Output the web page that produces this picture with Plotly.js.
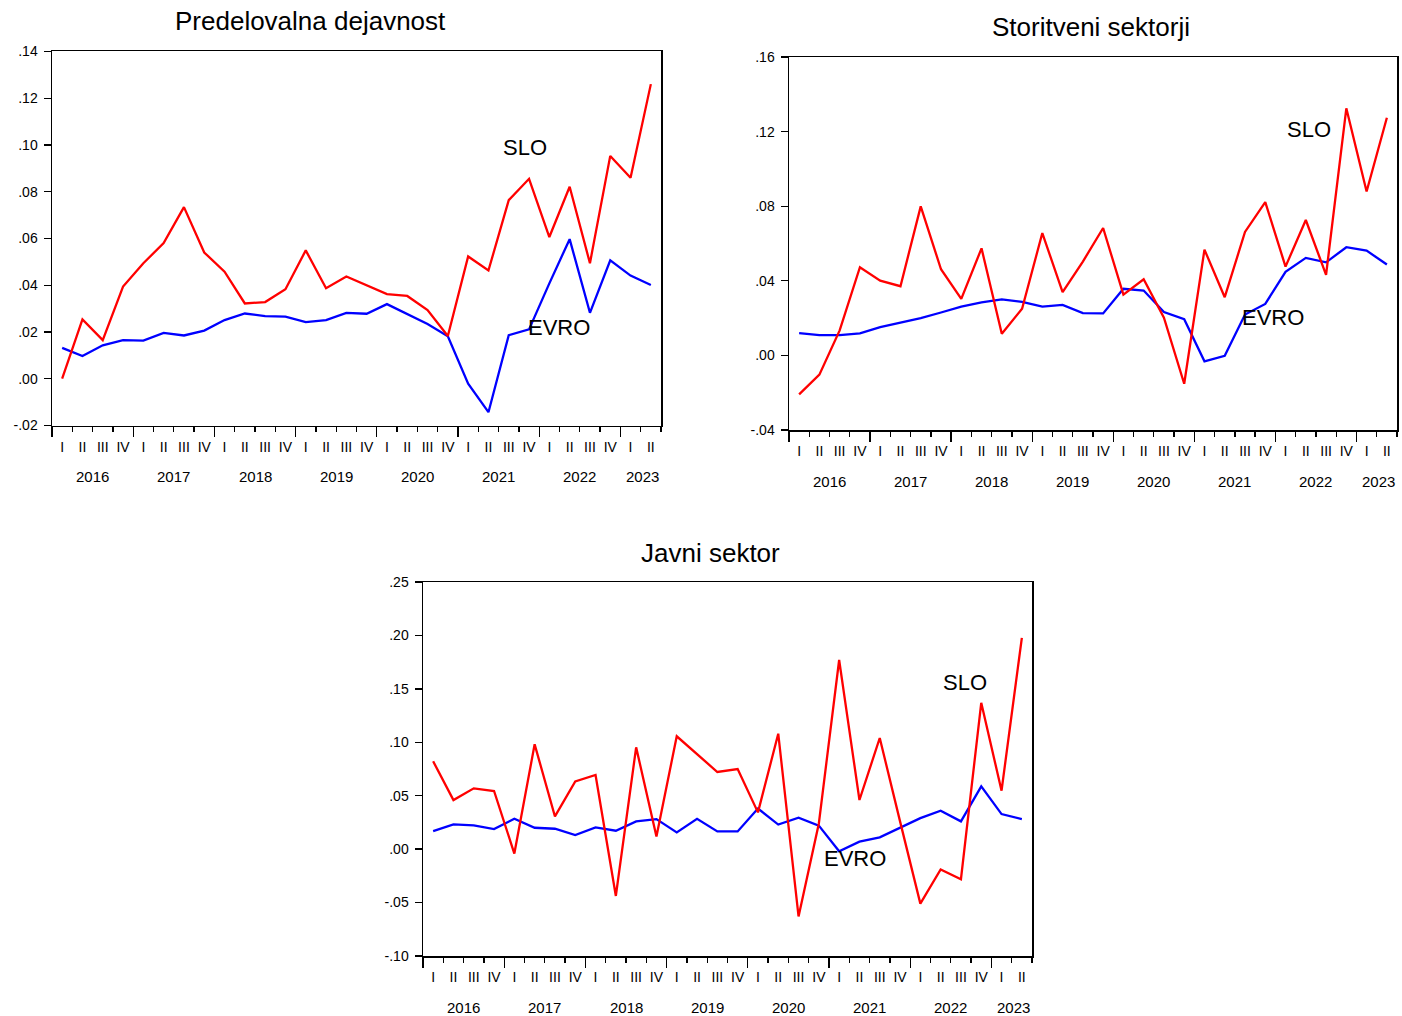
<!DOCTYPE html>
<html>
<head>
<meta charset="utf-8">
<script src="https://cdn.plot.ly/plotly-3.0.1.min.js"></script>
<style>
  html, body { margin: 0; padding: 0; background: #fff; }
  #chart { width: 1402px; height: 1016px; }
</style>
</head>
<body>
<div id="chart"></div>
<script>
// Quarterly growth rates, 2016 Q1 – 2023 Q2
const quarterLabels = ['I','II','III','IV','I','II','III','IV','I','II','III','IV','I','II','III','IV',
                       'I','II','III','IV','I','II','III','IV','I','II','III','IV','I','II'];
const yearLabels = ['2016','2017','2018','2019','2020','2021','2022','2023'];

const predSLO  = [0.000, 0.0254, 0.0165, 0.0394, 0.0494, 0.058, 0.0734, 0.054, 0.0458, 0.0322,
                  0.0328, 0.0383, 0.0549, 0.0387, 0.0437, 0.0398, 0.0362, 0.0354, 0.0294, 0.0183,
                  0.0523, 0.0463, 0.0764, 0.0855, 0.0606, 0.0821, 0.0494, 0.0953, 0.086, 0.126];
const predEVRO = [0.0132, 0.0097, 0.0143, 0.0165, 0.0163, 0.0196, 0.0185, 0.0206, 0.0251, 0.0279,
                  0.0268, 0.0266, 0.0242, 0.0251, 0.0282, 0.0278, 0.0319, 0.0277, 0.0234, 0.0182,
                  -0.0021, -0.0143, 0.0186, 0.0211, 0.0408, 0.0597, 0.0282, 0.0506, 0.0441, 0.0401];

const storSLO  = [-0.0209, -0.0103, 0.0134, 0.0473, 0.0401, 0.0371, 0.0799, 0.0462, 0.0303, 0.0574,
                  0.0116, 0.025, 0.0656, 0.0339, 0.0503, 0.0683, 0.0326, 0.0408, 0.0202, -0.0152,
                  0.0567, 0.0312, 0.0662, 0.0822, 0.0476, 0.0726, 0.0432, 0.1325, 0.0879, 0.1274];
const storEVRO = [0.012, 0.0109, 0.0109, 0.0118, 0.0152, 0.0177, 0.02, 0.023, 0.0262, 0.0284,
                  0.03, 0.0287, 0.0262, 0.0271, 0.0227, 0.0225, 0.0357, 0.0348, 0.0232, 0.0194,
                  -0.0032, -0.0002, 0.0219, 0.0276, 0.0448, 0.0523, 0.0499, 0.058, 0.0562, 0.0487];

const javSLO   = [0.0822, 0.0459, 0.0569, 0.0544, -0.0041, 0.0981, 0.0306, 0.0634, 0.0694, -0.0438,
                  0.0953, 0.0119, 0.1056, 0.0891, 0.0722, 0.075, 0.0344, 0.108, -0.063, 0.024,
                  0.177, 0.046, 0.104, 0.026, -0.051, -0.019, -0.0281, 0.1369, 0.0547, 0.1978];
const javEVRO  = [0.0169, 0.0231, 0.0222, 0.0188, 0.0284, 0.02, 0.0191, 0.0131, 0.0203, 0.0172,
                  0.0259, 0.0281, 0.0156, 0.0284, 0.0166, 0.0166, 0.038, 0.023, 0.0295, 0.022,
                  -0.002, 0.007, 0.011, 0.02, 0.029, 0.036, 0.026, 0.0588, 0.0328, 0.0281];

const panelTitles = ['Predelovalna dejavnost', 'Storitveni sektorji', 'Javni sektor'];
const seriesNames = ['SLO', 'EVRO'];

// ---- layout helpers ----
const W = 1402, H = 1016;
const FONT = 'Liberation Sans, Arial, Helvetica, sans-serif';
const px2x = p => p / W;
const px2y = p => 1 - p / H;

const idx = quarterLabels.map((_, i) => i);
const nQ = quarterLabels.length;

// panel boxes in pixels: [left, right, top, bottom], value range and tick step
const panels = [
  { box: [52, 661, 51.4, 425.5], range: [-0.02, 0.14], step: 0.02,
    slo: predSLO, evro: predEVRO, title: panelTitles[0], titlePos: [310, 21],
    sloLab: [22.8, 0.0991], evroLab: [24.48, 0.0221] },
  { box: [789, 1397, 57, 430], range: [-0.04, 0.16], step: 0.04,
    slo: storSLO, evro: storEVRO, title: panelTitles[1], titlePos: [1091, 27],
    sloLab: [25.16, 0.1209], evroLab: [23.38, 0.0201] },
  { box: [423, 1032, 582, 956], range: [-0.10, 0.25], step: 0.05,
    slo: javSLO, evro: javEVRO, title: panelTitles[2], titlePos: [710, 553],
    sloLab: [26.2, 0.1564], evroLab: [20.78, -0.0083] }
];

const fmtTick = v => {
  const s = Math.abs(v).toFixed(2).replace(/^0/, '');
  return (v < -1e-9 ? '-' : '') + s;
};

// quarter boundaries and year boundaries
const boundaries = [];
for (let i = 0; i <= nQ; i++) boundaries.push(i - 0.5);
const yearStarts = [];
quarterLabels.forEach((q, i) => { if (q === 'I') yearStarts.push(i); });
const yearBounds = yearStarts.map(i => i - 0.5);

const traces = [];
const layout = {
  width: W, height: H,
  margin: { l: 0, r: 0, t: 0, b: 0 },
  paper_bgcolor: '#fff', plot_bgcolor: '#fff',
  showlegend: false,
  font: { family: FONT, color: '#000', size: 14 },
  annotations: []
};

panels.forEach((p, k) => {
  const n = k + 1;
  const xa = 'xaxis' + (n === 1 ? '' : n);
  const ya = 'yaxis' + (n === 1 ? '' : n);
  const xr = 'x' + (n === 1 ? '' : n);
  const yr = 'y' + (n === 1 ? '' : n);
  const labN = n + 3;
  const xaLab = 'xaxis' + labN;
  const xrLab = 'x' + labN;

  const [l, r, t, b] = p.box;
  const xdom = [px2x(l), px2x(r)];
  const ydom = [px2y(b), px2y(t)];

  const yTickVals = [];
  const nSteps = Math.round((p.range[1] - p.range[0]) / p.step);
  for (let i = 0; i <= nSteps; i++) yTickVals.push(+(p.range[0] + i * p.step).toFixed(4));

  layout[xa] = {
    domain: xdom, range: [-0.5, nQ - 0.5], anchor: yr,
    showline: true, mirror: true, linecolor: '#000', linewidth: 1.5,
    showgrid: false, zeroline: false, fixedrange: true,
    ticks: 'outside', tickvals: yearBounds, ticklen: 10, tickwidth: 1.3, tickcolor: '#000',
    showticklabels: false,
    minor: { tickvals: boundaries, ticks: 'outside', ticklen: 5, tickwidth: 1.3, tickcolor: '#000', showgrid: false }
  };
  layout[xaLab] = {
    domain: xdom, range: [-0.5, nQ - 0.5], anchor: yr, overlaying: xr, side: 'bottom',
    showline: false, showgrid: false, zeroline: false, fixedrange: true,
    ticks: '', tickvals: idx, ticktext: quarterLabels, tickangle: 0,
    ticklabelstandoff: 11, tickfont: { family: FONT, size: 14, color: '#000' }
  };
  layout[ya] = {
    domain: ydom, range: p.range, anchor: xr,
    showline: true, mirror: true, linecolor: '#000', linewidth: 1.5,
    showgrid: false, zeroline: false, fixedrange: true,
    ticks: 'outside', ticklen: 7, tickwidth: 1.3, tickcolor: '#000',
    tickvals: yTickVals, ticktext: yTickVals.map(fmtTick),
    ticklabelstandoff: 3, tickfont: { family: FONT, size: 14, color: '#000' }
  };

  traces.push({
    type: 'scatter', mode: 'lines', name: seriesNames[1],
    x: idx, y: p.evro, xaxis: xr, yaxis: yr,
    line: { color: '#0000FF', width: 2.3 }, hoverinfo: 'skip'
  });
  traces.push({
    type: 'scatter', mode: 'lines', name: seriesNames[0],
    x: idx, y: p.slo, xaxis: xr, yaxis: yr,
    line: { color: '#FF0000', width: 2.3 }, hoverinfo: 'skip'
  });
  // invisible carrier so the quarter-label axis gets drawn
  traces.push({
    type: 'scatter', mode: 'markers', x: idx, y: p.slo, xaxis: xrLab, yaxis: yr,
    marker: { opacity: 0, size: 1 }, hoverinfo: 'skip', showlegend: false
  });

  // year labels centred under each year's quarters, last one kept inside the frame
  yearLabels.forEach((yl, j) => {
    const first = yearStarts[j];
    const last = (j + 1 < yearStarts.length ? yearStarts[j + 1] : nQ) - 1;
    const isLast = j === yearLabels.length - 1;
    layout.annotations.push({
      text: yl, xref: xr, yref: 'paper',
      x: isLast ? nQ - 0.5 : (first + last) / 2,
      xanchor: isLast ? 'right' : 'center',
      y: px2y(b + 51), yanchor: 'middle', showarrow: false,
      font: { family: FONT, size: 15, color: '#000' }
    });
  });

  // panel title
  layout.annotations.push({
    text: p.title, xref: 'paper', yref: 'paper',
    x: px2x(p.titlePos[0]), y: px2y(p.titlePos[1]),
    xanchor: 'center', yanchor: 'middle', showarrow: false,
    font: { family: FONT, size: 26, color: '#000' }
  });

  // series labels inside the plot
  layout.annotations.push({
    text: seriesNames[0], xref: xr, yref: yr, x: p.sloLab[0], y: p.sloLab[1],
    xanchor: 'center', yanchor: 'middle', showarrow: false,
    font: { family: FONT, size: 22, color: '#000' }
  });
  layout.annotations.push({
    text: seriesNames[1], xref: xr, yref: yr, x: p.evroLab[0], y: p.evroLab[1],
    xanchor: 'center', yanchor: 'middle', showarrow: false,
    font: { family: FONT, size: 22, color: '#000' }
  });
});

Plotly.newPlot('chart', traces, layout, { staticPlot: true, displayModeBar: false });
</script>
</body>
</html>
